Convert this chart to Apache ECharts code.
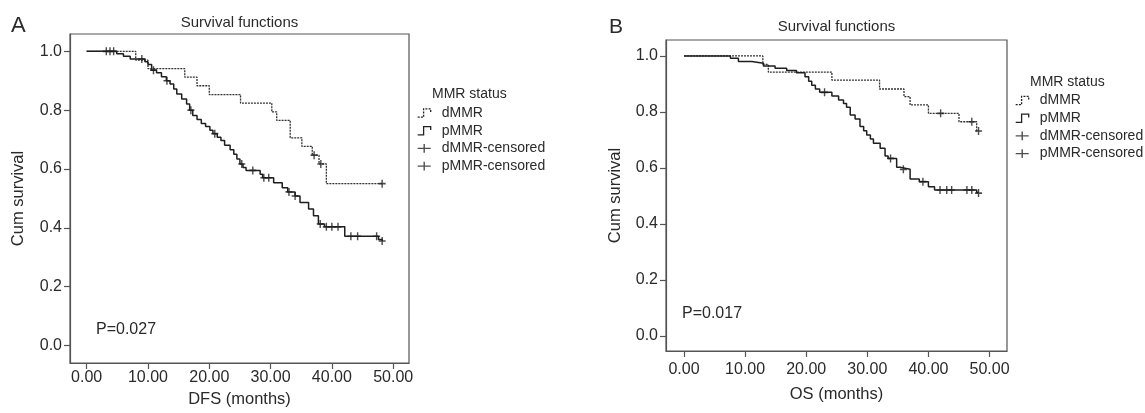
<!DOCTYPE html>
<html>
<head>
<meta charset="utf-8">
<script src="https://cdn.jsdelivr.net/npm/echarts@6/dist/echarts.min.js"></script>
<style>
html,body{margin:0;padding:0;background:#fff;}
#chart{width:1145px;height:413px;}
</style>
</head>
<body>
<div id="chart"></div>
<script>
// ---------- DATA ----------
const xTickValues = [0, 10, 20, 30, 40, 50];
const yTickValues = [0, 0.2, 0.4, 0.6, 0.8, 1.0];
const legendNames = ['dMMR', 'pMMR', 'dMMR-censored', 'pMMR-censored'];

// Panel A: DFS
const dfsDmmrTime = [0, 8.0, 10.0, 16.0, 18.0, 20.0, 25.1, 30.2, 31.0, 33.2, 35.1, 36.8, 37.9, 39.1, 48.2];
const dfsDmmrSurv = [1.0, 0.970, 0.941, 0.912, 0.883, 0.853, 0.824, 0.794, 0.765, 0.706, 0.677, 0.647, 0.617, 0.550, 0.550];
const dfsDmmrCensorTime = [37.1, 38.2, 48.2];

const dfsPmmrTime = [0, 4.9, 6.0, 7.1, 9.5, 10.0, 10.6, 11.4, 12.2, 13.0, 13.6, 14.2, 14.7, 15.5, 16.3, 16.8, 17.3, 18.0, 18.7, 19.4, 20.1, 20.6, 21.3, 21.9, 22.5, 23.4, 24.0, 24.5, 25.0, 25.5, 26.0, 28.3, 28.7, 30.5, 31.9, 32.8, 34.0, 34.8, 36.2, 37.0, 37.8, 38.8, 42.1, 47.6, 48.2];
const dfsPmmrSurv = [1.0, 0.992, 0.983, 0.974, 0.965, 0.955, 0.936, 0.927, 0.914, 0.900, 0.889, 0.872, 0.855, 0.838, 0.821, 0.800, 0.782, 0.768, 0.755, 0.744, 0.732, 0.720, 0.708, 0.697, 0.681, 0.665, 0.650, 0.634, 0.617, 0.605, 0.595, 0.582, 0.570, 0.553, 0.536, 0.522, 0.508, 0.486, 0.464, 0.441, 0.413, 0.403, 0.371, 0.360, 0.355];
const dfsPmmrCensorTime = [3.2, 3.8, 4.4, 9.0, 10.9, 13.1, 17.0, 20.9, 25.3, 27.1, 28.9, 29.7, 33.0, 34.0, 38.1, 39.1, 40.0, 41.0, 43.1, 44.2, 47.3, 48.2];

// Panel B: OS
const osDmmrTime = [0, 12.9, 13.8, 24.2, 32.0, 36.0, 37.0, 40.0, 45.0, 47.9, 48.2];
const osDmmrSurv = [1.0, 0.970, 0.942, 0.914, 0.882, 0.855, 0.825, 0.795, 0.765, 0.732, 0.732];
const osDmmrCensorTime = [42.0, 47.1, 48.2];

const osPmmrTime = [0, 7.6, 8.9, 11.1, 13.0, 14.9, 16.8, 18.4, 19.8, 20.4, 20.9, 21.5, 22.2, 24.2, 25.3, 26.1, 26.6, 27.2, 28.0, 28.8, 29.4, 29.9, 30.5, 31.0, 32.1, 32.9, 33.4, 34.8, 35.5, 37.0, 38.5, 40.0, 41.0, 47.9, 48.2];
const osPmmrSurv = [1.0, 0.992, 0.980, 0.974, 0.964, 0.956, 0.948, 0.940, 0.926, 0.910, 0.895, 0.882, 0.870, 0.857, 0.843, 0.830, 0.817, 0.789, 0.775, 0.748, 0.733, 0.718, 0.703, 0.688, 0.670, 0.643, 0.634, 0.602, 0.595, 0.560, 0.551, 0.533, 0.521, 0.512, 0.510];
const osPmmrCensorTime = [23.0, 33.8, 35.9, 39.1, 41.9, 43.0, 43.8, 46.3, 47.1, 48.2];

// ---------- BUILD ----------
const FONT = "'Liberation Sans', Arial, Helvetica, sans-serif";
const INK = '#2a2a2a';
const pairs = (t, s) => t.map((v, i) => [v, s[i]]);
function survAt(times, surv, t) {
  let v = surv[0];
  for (let i = 0; i < times.length; i++) { if (times[i] <= t + 1e-9) v = surv[i]; }
  return v;
}
const censorPts = (ct, times, surv) => ct.map(t => [t, survAt(times, surv, t)]);

const plusSymbol = 'path://M0,4H8M4,0V8';
const stepIcon = 'path://M0,8H5V1H11V4';
const plusIcon = 'path://M0,4H12M6,0V8';

function curve(name, data, idx, dashed) {
  return {
    type: 'line', name, step: 'end', data, xAxisIndex: idx, yAxisIndex: idx,
    showSymbol: false, symbol: 'none', silent: true, animation: false,
    lineStyle: dashed ? { color: '#333', width: 1.3, type: [2, 1] } : { color: '#1e1e1e', width: 1.5 },
    itemStyle: { color: dashed ? '#333' : '#1e1e1e' }, z: dashed ? 2 : 3
  };
}
function censor(name, data, idx) {
  return {
    type: 'scatter', name, data, xAxisIndex: idx, yAxisIndex: idx,
    symbol: plusSymbol, symbolSize: [7, 8], animation: false, silent: true,
    itemStyle: { color: 'rgba(0,0,0,0)', borderColor: '#1e1e1e', borderWidth: 1.5 }, z: 4
  };
}

const grids = [
  { left: 70, top: 34, width: 339, height: 334 },
  { left: 666, top: 40, width: 341, height: 311 }
];
const axisCfg = [
  { xmin: -2.72, xmax: 52.58, ymin: -0.060, ymax: 1.059, xName: 'DFS (months)', xLabelMargin: 7, xNameGap: 28, yNameGap: 43 },
  { xmin: -2.95, xmax: 52.86, ymin: -0.054, ymax: 1.057, xName: 'OS (months)', xLabelMargin: 11, xNameGap: 35, yNameGap: 42 }
];

const xAxes = axisCfg.map((c, i) => ({
  type: 'value', gridIndex: i, min: c.xmin, max: c.xmax,
  name: c.xName, nameLocation: 'middle', nameGap: c.xNameGap,
  nameTextStyle: { fontFamily: FONT, fontSize: 16.5, color: INK },
  axisLine: { show: true, onZero: false, lineStyle: { color: '#555', width: 1.2 } },
  axisTick: { show: true, length: 6, customValues: xTickValues, lineStyle: { color: '#555', width: 1.2 } },
  axisLabel: { customValues: xTickValues, formatter: v => v.toFixed(2), margin: c.xLabelMargin, fontFamily: FONT, fontSize: 16, color: INK },
  splitLine: { show: false }
}));
const yAxes = axisCfg.map((c, i) => ({
  type: 'value', gridIndex: i, min: c.ymin, max: c.ymax,
  name: 'Cum survival', nameLocation: 'middle', nameGap: c.yNameGap,
  nameTextStyle: { fontFamily: FONT, fontSize: 16.5, color: INK },
  axisLine: { show: true, onZero: false, lineStyle: { color: '#555', width: 1.2 } },
  axisTick: { show: true, length: 6, customValues: yTickValues, lineStyle: { color: '#555', width: 1.2 } },
  axisLabel: { customValues: yTickValues, formatter: v => v.toFixed(1), margin: 8, fontFamily: FONT, fontSize: 16, color: INK },
  splitLine: { show: false }
}));

const series = [
  curve('dMMR', pairs(dfsDmmrTime, dfsDmmrSurv), 0, true),
  curve('pMMR', pairs(dfsPmmrTime, dfsPmmrSurv), 0, false),
  censor('dMMR-censored', censorPts(dfsDmmrCensorTime, dfsDmmrTime, dfsDmmrSurv), 0),
  censor('pMMR-censored', censorPts(dfsPmmrCensorTime, dfsPmmrTime, dfsPmmrSurv), 0),
  curve('dMMR', pairs(osDmmrTime, osDmmrSurv), 1, true),
  curve('pMMR', pairs(osPmmrTime, osPmmrSurv), 1, false),
  censor('dMMR-censored', censorPts(osDmmrCensorTime, osDmmrTime, osDmmrSurv), 1),
  censor('pMMR-censored', censorPts(osPmmrCensorTime, osPmmrTime, osPmmrSurv), 1)
];

function legendData() {
  return legendNames.map((n, i) => {
    if (i < 2) return { name: n, icon: stepIcon, itemStyle: { color: 'rgba(0,0,0,0)', borderColor: '#222', borderWidth: 1.3, borderType: i === 0 ? [2, 1.2] : 'solid' } };
    return { name: n, icon: plusIcon, itemStyle: { color: 'rgba(0,0,0,0)', borderColor: '#222', borderWidth: 1.4 } };
  });
}
const legendBase = {
  orient: 'vertical', itemWidth: 13, itemHeight: 9, itemGap: 3.7, selectedMode: false, padding: 0,
  textStyle: { fontFamily: FONT, fontSize: 14, color: INK, padding: [0, 0, 0, 6] }
};

const titleStyle = (size) => ({ fontFamily: FONT, fontSize: size, fontWeight: 'normal', color: INK });
const titles = [
  { text: 'A', left: 11, top: 15, textStyle: titleStyle(22) },
  { text: 'Survival functions', left: 239.5, textAlign: 'center', top: 15, textStyle: titleStyle(15) },
  { text: 'P=0.027', left: 96, top: 322, textStyle: titleStyle(16) },
  { text: 'MMR status', left: 432, top: 87, textStyle: titleStyle(14) },
  { text: 'B', left: 609, top: 17, textStyle: titleStyle(21) },
  { text: 'Survival functions', left: 836.5, textAlign: 'center', top: 19, textStyle: titleStyle(15) },
  { text: 'P=0.017', left: 682, top: 306, textStyle: titleStyle(16) },
  { text: 'MMR status', left: 1030, top: 75, textStyle: titleStyle(14) }
].map(t => Object.assign({ padding: 0 }, t));

const option = {
  backgroundColor: '#ffffff',
  animation: false,
  title: titles,
  grid: grids.map(g => Object.assign({ show: true, borderColor: '#555', borderWidth: 1.2, backgroundColor: 'rgba(0,0,0,0)', containLabel: false }, g)),
  xAxis: xAxes,
  yAxis: yAxes,
  legend: [
    Object.assign({ left: 417, top: 106, data: legendData() }, legendBase),
    Object.assign({ left: 1015, top: 93.5, data: legendData() }, legendBase)
  ],
  series
};

const chart = echarts.init(document.getElementById('chart'), null, { renderer: 'canvas' });
chart.setOption(option);
</script>
</body>
</html>
